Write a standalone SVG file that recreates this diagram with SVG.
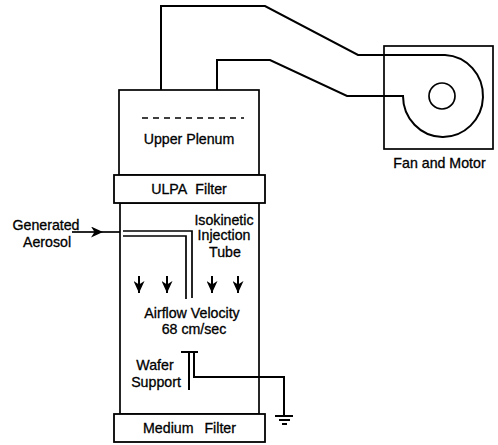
<svg xmlns="http://www.w3.org/2000/svg" width="498" height="445" viewBox="0 0 498 445">
<style>
.l{fill:none;stroke:#000;stroke-width:1.7}
.h{fill:none;stroke:#000;stroke-width:2}
.b{fill:#fff;stroke:#000;stroke-width:1.8}
text{font-family:"Liberation Sans",Arial,sans-serif;font-size:14.2px;fill:#000;text-anchor:middle;stroke:#000;stroke-width:.3}
</style>
<defs>
<marker id="a" markerWidth="13" markerHeight="11" refX="12" refY="5.5" orient="auto" markerUnits="userSpaceOnUse"><path d="M0 0L12 5.5L0 11L3.5 5.5Z" fill="#000"/></marker>
</defs>
<g id="connectors">
<path class="h" d="M161 90V6H265L358 55H445A40 41 0 1 1 403 96H347L270 60H217V90"/>
<path class="l" d="M72 232H103" marker-end="url(#a)"/>
<path class="l" d="M103 232H120"/>
<path class="l" d="M123 231H192V298"/>
<path class="l" d="M123 236H186V299"/>
<g>
<path class="h" d="M139 276V293" marker-end="url(#a)"/>
<path class="h" d="M167 276V293" marker-end="url(#a)"/>
<path class="h" d="M212 276V293" marker-end="url(#a)"/>
<path class="h" d="M238 276V293" marker-end="url(#a)"/>
</g>
<path class="h" d="M194 352V377H284V415"/>
</g>
<g id="fan-motor">
<rect class="l" x="384" y="46" width="109" height="103"/>
<circle class="l" cx="442" cy="96" r="13"/>
<text x="439.5" y="168">Fan and Motor</text>
</g>
<g id="upper-plenum">
<rect class="l" x="119" y="90" width="140" height="85"/>
<path d="M142 118H244" fill="none" stroke="#000" stroke-width="1.4" stroke-dasharray="6 5"/>
<text x="189" y="144">Upper Plenum</text>
</g>
<g id="chamber">
<rect class="l" x="120" y="203" width="139" height="211"/>
<text x="192" y="318">Airflow Velocity</text>
<text x="194" y="334">68 cm/sec</text>
</g>
<g id="ulpa-filter">
<rect class="b" x="114" y="175" width="151" height="28"/>
<text x="189" y="194" word-spacing="5">ULPA Filter</text>
</g>
<g id="medium-filter">
<rect class="b" x="114" y="414" width="151" height="28"/>
<text x="189.5" y="433" word-spacing="7">Medium Filter</text>
</g>
<g id="generated-aerosol">
<text x="46" y="230">Generated</text>
<text x="47" y="247">Aerosol</text>
</g>
<g id="injection-tube-label">
<text x="224" y="225">Isokinetic</text>
<text x="224" y="240">Injection</text>
<text x="225" y="257">Tube</text>
</g>
<g id="wafer-support">
<path class="h" d="M181 352H198M189 352V390"/>
<text x="155" y="370">Wafer</text>
<text x="156" y="387">Support</text>
</g>
<g id="ground">
<path class="h" d="M275 416H293M279 420H290M282 424H287"/>
</g>
</svg>
